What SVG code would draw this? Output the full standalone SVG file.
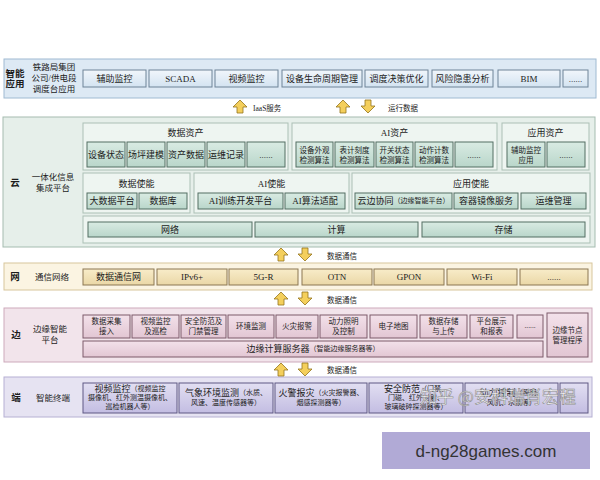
<svg xmlns="http://www.w3.org/2000/svg" width="600" height="480" viewBox="0 0 600 480">
<style>
text{font-family:"Liberation Serif","Noto Sans CJK SC",serif;font-size:9px;fill:#1c1c1c;text-anchor:middle;dominant-baseline:central}
.lab{font-size:9.5px;font-weight:bold}
.sub{font-size:8.5px}
.ttl{font-size:9px}
.sm{font-size:7.5px}
.xs{font-size:7px}
.blue{fill:url(#gb);stroke:#6f8497;stroke-width:1}
.grn{fill:url(#gg);stroke:#536e63;stroke-width:1}
.cont{fill:#eef5f1;stroke:#abc0b5;stroke-width:1}
.tan{fill:url(#gt);stroke:#8b7752;stroke-width:1}
.pnk{fill:url(#gp);stroke:#7d5a6b;stroke-width:1}
.pur{fill:url(#gv);stroke:#5e5883;stroke-width:1}
.arr{fill:#f4cf5c;stroke:#94741c;stroke-width:0.8}
</style>
<defs>
<linearGradient id="gb" x1="0" y1="0" x2="0" y2="1"><stop offset="0" stop-color="#f1f6fb"/><stop offset="1" stop-color="#d3e3f1"/></linearGradient>
<linearGradient id="gg" x1="0" y1="0" x2="0" y2="1"><stop offset="0" stop-color="#d9ebe3"/><stop offset="1" stop-color="#b9d6ca"/></linearGradient>
<linearGradient id="gt" x1="0" y1="0" x2="0" y2="1"><stop offset="0" stop-color="#f8ecc9"/><stop offset="1" stop-color="#ead7a6"/></linearGradient>
<linearGradient id="gp" x1="0" y1="0" x2="0" y2="1"><stop offset="0" stop-color="#f3e1ea"/><stop offset="1" stop-color="#e2c6d3"/></linearGradient>
<linearGradient id="gv" x1="0" y1="0" x2="0" y2="1"><stop offset="0" stop-color="#e2dff2"/><stop offset="1" stop-color="#c3bde2"/></linearGradient>
<polygon id="up" class="arr" points="0,0 7,7 3,7 3,13 -3,13 -3,7 -7,7"/>
<polygon id="dn" class="arr" points="0,13 7,6 3,6 3,0 -3,0 -3,6 -7,6"/>
</defs>
<rect width="600" height="480" fill="#ffffff"/>

<!-- Band 1: 智能应用 -->
<g id="band-app">
<rect x="4" y="59" width="592" height="39" fill="#dde9f4" stroke="#9fbad2"/>
<text class="lab" x="15" y="74">智能</text>
<text class="lab" x="15" y="84">应用</text>
<text class="sub" x="54" y="67">铁路局集团</text>
<text class="sub" x="54" y="78">公司/供电段</text>
<text class="sub" x="54" y="89">调度台应用</text>
</g>
<g id="app-1"><rect class="blue" x="83" y="70" width="63" height="17"/><text x="114.5" y="78.5">辅助监控</text></g>
<g id="app-2"><rect class="blue" x="149" y="70" width="63" height="17"/><text x="180.5" y="78.5">SCADA</text></g>
<g id="app-3"><rect class="blue" x="215" y="70" width="63" height="17"/><text x="246.5" y="78.5">视频监控</text></g>
<g id="app-4"><rect class="blue" x="282" y="70" width="80" height="17"/><text x="322" y="78.5">设备生命周期管理</text></g>
<g id="app-5"><rect class="blue" x="365" y="70" width="63" height="17"/><text x="396.5" y="78.5">调度决策优化</text></g>
<g id="app-6"><rect class="blue" x="432" y="70" width="61" height="17"/><text x="462.5" y="78.5">风险隐患分析</text></g>
<g id="app-7"><rect class="blue" x="498" y="70" width="62" height="17"/><text x="529" y="78.5">BIM</text></g>
<g id="app-8"><rect class="blue" x="563" y="70" width="25" height="17"/><text x="575.5" y="78.5">......</text></g>

<!-- Band 2: 云 -->
<g id="band-cloud">
<rect x="3" y="117" width="592" height="130" fill="#e6efea" stroke="#a5bcb0"/>
<text class="lab" x="15" y="183">云</text>
<text class="sub" x="53" y="177">一体化信息</text>
<text class="sub" x="53" y="188">集成平台</text>
</g>
<g id="data-assets">
<rect class="cont" x="83" y="123" width="205" height="47"/>
<text class="ttl" x="185.5" y="133">数据资产</text>
</g>
<g id="da-1"><rect class="grn" x="87" y="142" width="38" height="25"/><text x="106" y="154.5">设备状态</text></g>
<g id="da-2"><rect class="grn" x="127" y="142" width="38" height="25"/><text x="146" y="154.5">场坪建模</text></g>
<g id="da-3"><rect class="grn" x="167" y="142" width="38" height="25"/><text x="186" y="154.5">资产数据</text></g>
<g id="da-4"><rect class="grn" x="207" y="142" width="38" height="25"/><text x="226" y="154.5">运维记录</text></g>
<g id="da-5"><rect class="grn" x="247" y="142" width="38" height="25"/><text x="266" y="154.5">......</text></g>
<g id="ai-assets">
<rect class="cont" x="292" y="123" width="205" height="47"/>
<text class="ttl" x="394.5" y="133">AI资产</text>
</g>
<g id="aa-1"><rect class="grn" x="296" y="142" width="37" height="25"/><text class="sm" x="314.5" y="150">设备外观</text><text class="sm" x="314.5" y="160">检测算法</text></g>
<g id="aa-2"><rect class="grn" x="335" y="142" width="39" height="25"/><text class="sm" x="354.5" y="150">表计刻度</text><text class="sm" x="354.5" y="160">检测算法</text></g>
<g id="aa-3"><rect class="grn" x="376" y="142" width="37" height="25"/><text class="sm" x="394.5" y="150">开关状态</text><text class="sm" x="394.5" y="160">检测算法</text></g>
<g id="aa-4"><rect class="grn" x="415" y="142" width="38" height="25"/><text class="sm" x="434" y="150">动作计数</text><text class="sm" x="434" y="160">检测算法</text></g>
<g id="aa-5"><rect class="grn" x="455" y="142" width="38" height="25"/><text x="474" y="154.5">......</text></g>
<g id="app-assets">
<rect class="cont" x="502" y="123" width="87" height="47"/>
<text class="ttl" x="545.5" y="133">应用资产</text>
</g>
<g id="pa-1"><rect class="grn" x="507" y="142" width="38" height="25"/><text class="sm" x="526" y="150">辅助监控</text><text class="sm" x="526" y="160">应用</text></g>
<g id="pa-2"><rect class="grn" x="547" y="142" width="38" height="25"/><text x="566" y="154.5">......</text></g>

<g id="data-enable">
<rect class="cont" x="83" y="173" width="107" height="40"/>
<text class="ttl" x="136.5" y="184">数据使能</text>
</g>
<g id="de-1"><rect class="grn" x="87" y="193" width="50" height="16"/><text x="112" y="201">大数据平台</text></g>
<g id="de-2"><rect class="grn" x="139" y="193" width="48" height="16"/><text x="163" y="201">数据库</text></g>
<g id="ai-enable">
<rect class="cont" x="194" y="173" width="155" height="40"/>
<text class="ttl" x="271.5" y="184">AI使能</text>
</g>
<g id="ae-1"><rect class="grn" x="198" y="193" width="85" height="16"/><text x="240.5" y="201">AI训练开发平台</text></g>
<g id="ae-2"><rect class="grn" x="285" y="193" width="60" height="16"/><text x="315" y="201">AI算法适配</text></g>
<g id="app-enable">
<rect class="cont" x="352" y="173" width="238" height="40"/>
<text class="ttl" x="471" y="184">应用使能</text>
</g>
<g id="pe-1"><rect class="grn" x="355" y="193" width="97" height="16"/><text x="403.5" y="201"><tspan>云边协同</tspan><tspan class="xs">（边缘智能平台）</tspan></text></g>
<g id="pe-2"><rect class="grn" x="454" y="193" width="64" height="16"/><text x="486" y="201">容器镜像服务</text></g>
<g id="pe-3"><rect class="grn" x="521" y="193" width="65" height="16"/><text x="553.5" y="201">运维管理</text></g>
<g id="infra">
<rect class="cont" x="83" y="216" width="507" height="27"/>
</g>
<g id="inf-1"><rect class="grn" x="88" y="222" width="164" height="15"/><text x="170" y="229.5">网络</text></g>
<g id="inf-2"><rect class="grn" x="255" y="222" width="163" height="15"/><text x="336.5" y="229.5">计算</text></g>
<g id="inf-3"><rect class="grn" x="422" y="222" width="163" height="15"/><text x="503.5" y="229.5">存储</text></g>

<!-- Band 3: 网 -->
<g id="band-net">
<rect x="4" y="263" width="588" height="27" fill="#fbf4e2" stroke="#d7c69c"/>
<text class="lab" x="15" y="277">网</text>
<text class="sub" x="52" y="277">通信网络</text>
</g>
<g id="net-1"><rect class="tan" x="83" y="269" width="71" height="16"/><text x="118.5" y="277">数据通信网</text></g>
<g id="net-2"><rect class="tan" x="157" y="269" width="70" height="16"/><text x="192" y="277">IPv6+</text></g>
<g id="net-3"><rect class="tan" x="229" y="269" width="69" height="16"/><text x="263.5" y="277">5G-R</text></g>
<g id="net-4"><rect class="tan" x="302" y="269" width="70" height="16"/><text x="337" y="277">OTN</text></g>
<g id="net-5"><rect class="tan" x="374" y="269" width="70" height="16"/><text x="409" y="277">GPON</text></g>
<g id="net-6"><rect class="tan" x="447" y="269" width="70" height="16"/><text x="482" y="277">Wi-Fi</text></g>
<g id="net-7"><rect class="tan" x="520" y="269" width="68" height="16"/><text x="554" y="277">......</text></g>

<!-- Band 4: 边 -->
<g id="band-edge">
<rect x="4" y="308" width="588" height="54" fill="#f2e4eb" stroke="#cdaabb"/>
<text class="lab" x="16" y="335">边</text>
<text class="sub" x="50" y="329">边缘智能</text>
<text class="sub" x="50" y="340">平台</text>
</g>
<g id="e-1"><rect class="pnk" x="83" y="315" width="47" height="23"/><text class="sm" x="106.5" y="321.5">数据采集</text><text class="sm" x="106.5" y="331.5">接入</text></g>
<g id="e-2"><rect class="pnk" x="132" y="315" width="47" height="23"/><text class="sm" x="155.5" y="321.5">视频监控</text><text class="sm" x="155.5" y="331.5">及巡检</text></g>
<g id="e-3"><rect class="pnk" x="181" y="315" width="45" height="23"/><text class="sm" x="203.5" y="321.5">安全防范及</text><text class="sm" x="203.5" y="331.5">门禁管理</text></g>
<g id="e-4"><rect class="pnk" x="228" y="315" width="46" height="23"/><text class="sm" x="251" y="326.5">环境监测</text></g>
<g id="e-5"><rect class="pnk" x="276" y="315" width="42" height="23"/><text class="sm" x="297" y="326.5">火灾报警</text></g>
<g id="e-6"><rect class="pnk" x="320" y="315" width="47" height="23"/><text class="sm" x="343.5" y="321.5">动力照明</text><text class="sm" x="343.5" y="331.5">及控制</text></g>
<g id="e-7"><rect class="pnk" x="370" y="315" width="47" height="23"/><text class="sm" x="393.5" y="326.5">电子地图</text></g>
<g id="e-8"><rect class="pnk" x="420" y="315" width="47" height="23"/><text class="sm" x="443.5" y="321.5">数据存储</text><text class="sm" x="443.5" y="331.5">与上传</text></g>
<g id="e-9"><rect class="pnk" x="470" y="315" width="43" height="23"/><text class="sm" x="491.5" y="321.5">平台展示</text><text class="sm" x="491.5" y="331.5">和报表</text></g>
<g id="e-10"><rect class="pnk" x="517" y="315" width="26" height="23"/><text class="sm" x="530" y="325">......</text></g>
<g id="e-node"><rect class="pnk" x="547" y="313" width="41" height="44"/><text class="sm" x="567.5" y="330">边缘节点</text><text class="sm" x="567.5" y="340">管理程序</text></g>
<g id="e-server"><rect class="pnk" x="83" y="341" width="460" height="16"/><text x="313" y="349"><tspan>边缘计算服务器</tspan><tspan class="xs">（智能边缘服务器等）</tspan></text></g>

<!-- Band 5: 端 -->
<g id="band-end">
<rect x="4" y="377" width="588" height="40" fill="#e6e3f2" stroke="#b6b0d3"/>
<text class="lab" x="16" y="398">端</text>
<text class="sub" x="53" y="398">智能终端</text>
</g>
<g id="t-1"><rect class="pur" x="83" y="383" width="94" height="30"/><text x="130" y="389"><tspan>视频监控</tspan><tspan class="xs">（视频监控</tspan></text><text class="xs" x="130" y="398">摄像机、红外测温摄像机、</text><text class="xs" x="130" y="407">巡检机器人等）</text></g>
<g id="t-2"><rect class="pur" x="179" y="383" width="94" height="30"/><text x="226" y="393"><tspan>气象环境监测</tspan><tspan class="xs">（水质、</tspan></text><text class="xs" x="226" y="403">风速、温度传感器等）</text></g>
<g id="t-3"><rect class="pur" x="275" y="383" width="92" height="30"/><text x="321" y="393"><tspan>火警报灾</tspan><tspan class="xs">（火灾报警器、</tspan></text><text class="xs" x="321" y="403">烟感探测器等）</text></g>
<g id="t-4"><rect class="pur" x="369" y="383" width="94" height="30"/><text x="416" y="389"><tspan>安全防范</tspan><tspan class="xs">（门禁、</tspan></text><text class="xs" x="416" y="398">门磁、红外对射、</text><text class="xs" x="416" y="407">玻璃破碎探测器等）</text></g>
<g id="t-5"><rect class="pur" x="465" y="383" width="93" height="30"/><text x="511.5" y="393"><tspan>动力控制</tspan><tspan class="xs">（照明、</tspan></text><text class="xs" x="511.5" y="403">风机、水泵等）</text></g>
<g id="t-6"><rect class="pur" x="560" y="383" width="28" height="30"/></g>

<!-- connectors -->
<g id="connectors">
<use href="#up" x="240" y="100"/>
<text class="sm" x="253" y="108" style="text-anchor:start">IaaS服务</text>
<use href="#up" x="343" y="100"/>
<use href="#dn" x="368" y="100"/>
<text class="sm" x="388" y="108" style="text-anchor:start">运行数据</text>
<use href="#up" x="281" y="248"/>
<use href="#dn" x="305" y="248"/>
<text class="sm" x="327" y="256" style="text-anchor:start">数据通信</text>
<use href="#up" x="281" y="292"/>
<use href="#dn" x="305" y="292"/>
<text class="sm" x="327" y="300" style="text-anchor:start">数据通信</text>
<use href="#up" x="281" y="363"/>
<use href="#dn" x="305" y="363"/>
<text class="sm" x="327" y="370" style="text-anchor:start">数据通信</text>
</g>

<!-- watermark and label box -->
<text x="420" y="395" style="text-anchor:start;font-family:'Noto Sans CJK SC',sans-serif;font-size:17px;fill:#ffffff;fill-opacity:0.9;stroke:#8a8a8a;stroke-width:0.6">知乎 @安科瑞肖宏程</text>
<g id="site-box">
<rect x="382" y="432" width="208" height="37" fill="#b1aad6"/>
<text x="486" y="451" style="font-family:'Liberation Sans',sans-serif;font-size:17px;fill:#333333">d-ng28games.com</text>
</g>
</svg>
